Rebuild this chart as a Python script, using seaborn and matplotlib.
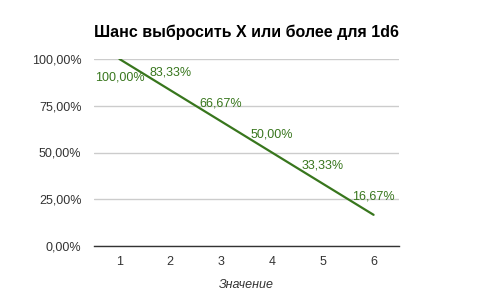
import matplotlib
matplotlib.use("Agg")
import matplotlib.pyplot as plt
import seaborn as sns
import pandas as pd
from matplotlib.ticker import FuncFormatter

values = [1, 2, 3, 4, 5, 6]
chances = [100.00, 83.33, 66.67, 50.00, 33.33, 16.67]
point_labels = ["100,00%", "83,33%", "66,67%", "50,00%", "33,33%", "16,67%"]
y_ticks = [0, 25, 50, 75, 100]
title = "Шанс выбросить X или более для 1d6"
x_label = "Значение"

sns.set_theme(style="white")
plt.rcParams['font.family'] = ['Liberation Sans', 'DejaVu Sans']

df = pd.DataFrame({"value": values, "chance": chances})
fig = plt.figure(figsize=(4.93, 3.05), dpi=100)
ax = fig.add_axes([94/493, 1-246/305, (399-94)/493, (246-59)/305])

green = "#38761d"
sns.lineplot(data=df, x="value", y="chance", ax=ax, color=green, linewidth=1.6)

for i, (x, y, lab) in enumerate(zip(values, chances, point_labels)):
    dy = -18 if i == 0 else 18
    ax.annotate(lab, (x, y), xytext=(0, dy), textcoords="offset pixels",
                ha="center", va="center", color=green, fontsize=9)

ax.set_xlim(0.5, 6.5)
ax.set_ylim(0, 100)
ax.set_xticks(values)
ax.set_yticks(y_ticks)
ax.yaxis.set_major_formatter(FuncFormatter(lambda v, p: f"{v:.2f}".replace(".", ",") + "%"))
ax.grid(axis="y", color="#cccccc", linewidth=1)
ax.set_axisbelow(True)
for s in ["left", "right", "top"]:
    ax.spines[s].set_visible(False)
ax.spines["bottom"].set_color("#333333")
ax.spines["bottom"].set_linewidth(1)
ax.tick_params(axis="both", length=0, labelsize=9, colors="#333333")
ax.tick_params(axis="y", pad=9)
ax.tick_params(axis="x", pad=7)
ax.set_xlabel(x_label, fontstyle="italic", fontsize=9, color="#333333", labelpad=8)
ax.set_ylabel("")
fig.text(0.5, 1-32/305, title, ha="center", va="center", fontsize=11.5, fontweight="bold", color="#000000")

fig.savefig("out.png", dpi=100)
